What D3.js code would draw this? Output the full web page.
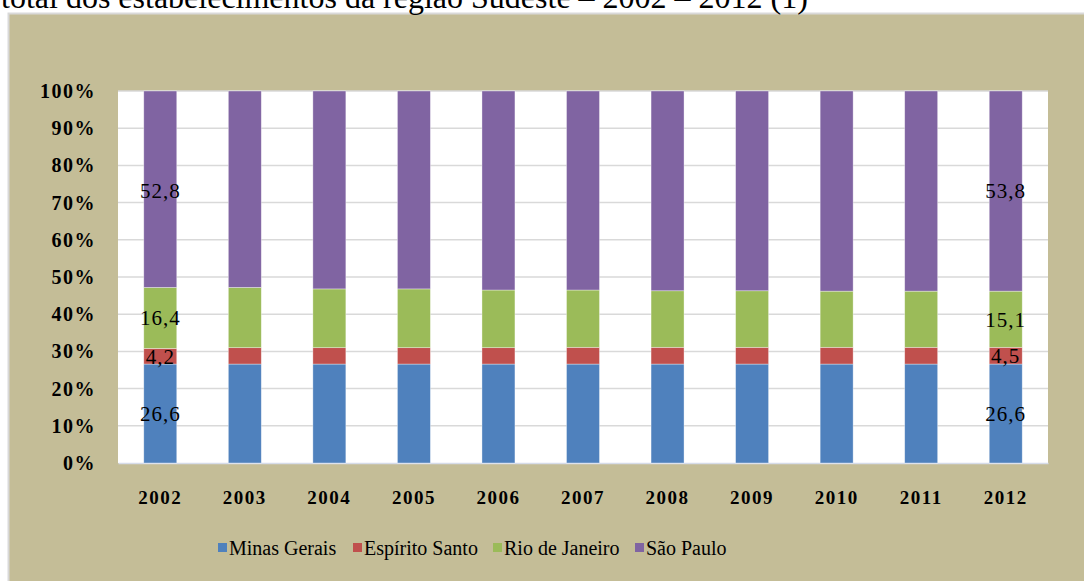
<!DOCTYPE html>
<html>
<head>
<meta charset="utf-8">
<script src="https://cdn.jsdelivr.net/npm/d3@7"></script>
<style>
  body { margin: 0; background: #fff; }
  svg { display: block; }
  svg text { font-family: "Liberation Serif", "Times New Roman", serif; }
</style>
</head>
<body>
<svg id="chart"></svg>
<script>
// data (percent of total)
const years = ["2002", "2003", "2004", "2005", "2006", "2007", "2008", "2009", "2010", "2011", "2012"];
const states = ["Minas Gerais", "Espírito Santo", "Rio de Janeiro", "São Paulo"];
const minasGerais = [26.6, 26.6, 26.6, 26.6, 26.6, 26.6, 26.6, 26.6, 26.6, 26.6, 26.6];
const espiritoSanto = [4.2, 4.4, 4.4, 4.4, 4.4, 4.5, 4.5, 4.5, 4.5, 4.5, 4.5];
const rioDeJaneiro = [16.4, 16.2, 15.8, 15.8, 15.5, 15.4, 15.2, 15.2, 15.1, 15.1, 15.1];
const saoPaulo = [52.8, 52.8, 53.2, 53.2, 53.5, 53.5, 53.7, 53.7, 53.8, 53.8, 53.8];
const yTicks = [0, 10, 20, 30, 40, 50, 60, 70, 80, 90, 100];
const labelledYears = ["2002", "2012"];

const colors = ["#4f81bd", "#c0504d", "#9bbb59", "#8064a2"];
const W = 1084, H = 581;
const serif = "'Liberation Serif', 'Times New Roman', serif";

const svg = d3.select("#chart").attr("width", W).attr("height", H);

// chart frame
svg.append("rect")
    .attr("x", 8.5).attr("y", 13.5)
    .attr("width", W).attr("height", H)
    .attr("fill", "#c4bd97")
    .attr("stroke", "#d9d9d9").attr("stroke-width", 2);

// title line, cut off at the top of the picture
svg.append("text")
    .attr("x", 1).attr("y", 8)
    .style("font-family", serif)
    .style("font-size", "32px")
    .text("total dos estabelecimentos da região Sudeste – 2002 – 2012 (1)");

const plot = { left: 118, right: 1048, top: 91, bottom: 463 };

svg.append("rect")
    .attr("x", plot.left).attr("y", plot.top)
    .attr("width", plot.right - plot.left).attr("height", plot.bottom - plot.top)
    .attr("fill", "#fff");

const x = d3.scaleBand()
    .domain(years)
    .range([plot.left, plot.right])
    .paddingInner(0.61)
    .paddingOuter(0.305);

const y = d3.scaleLinear().domain([0, 100]).range([plot.bottom, plot.top]);

// gridlines
svg.append("g")
    .selectAll("line")
    .data(yTicks.filter(d => d > 0))
    .join("line")
    .attr("x1", plot.left).attr("x2", plot.right)
    .attr("y1", d => y(d)).attr("y2", d => y(d))
    .attr("stroke", "#d9d9d9").attr("stroke-width", 1.5);

// y axis labels
const yAxis = d3.axisLeft(y).tickValues(yTicks).tickSize(0).tickPadding(22)
    .tickFormat(d => d + "%");
svg.append("g")
    .attr("transform", `translate(${plot.left},0)`)
    .call(yAxis)
    .call(g => g.select(".domain").remove())
    .selectAll("text")
    .style("font-family", serif)
    .style("font-size", "20px")
    .style("font-weight", "bold")
    .style("letter-spacing", "1.5px")
    .attr("fill", "#000");

// x axis labels
const xAxis = d3.axisBottom(x).tickSize(0).tickPadding(28);
svg.append("g")
    .attr("transform", `translate(0,${plot.bottom})`)
    .call(xAxis)
    .call(g => g.select(".domain").attr("stroke", "#d6dce9").attr("stroke-width", 1.5))
    .selectAll("text")
    .style("font-family", serif)
    .style("font-size", "19px")
    .style("font-weight", "bold")
    .style("letter-spacing", "1.5px")
    .attr("fill", "#000");

// stacked bars
const rows = years.map((yr, i) => ({
    year: yr,
    "Minas Gerais": minasGerais[i],
    "Espírito Santo": espiritoSanto[i],
    "Rio de Janeiro": rioDeJaneiro[i],
    "São Paulo": saoPaulo[i]
}));
const series = d3.stack().keys(states)(rows);

const layer = svg.append("g")
    .selectAll("g")
    .data(series)
    .join("g")
    .attr("fill", (d, i) => colors[i]);

layer.selectAll("rect")
    .data(d => d)
    .join("rect")
    .attr("x", d => x(d.data.year))
    .attr("width", x.bandwidth())
    .attr("y", d => y(d[1]))
    .attr("height", d => y(d[0]) - y(d[1]))
    .attr("stroke", "rgba(255,255,255,0.5)")
    .attr("stroke-width", 0.7);

// data labels (first and last year only)
layer.selectAll("text")
    .data(d => d.filter(p => labelledYears.includes(p.data.year)).map(p => ({ p, key: d.key })))
    .join("text")
    .attr("x", d => x(d.p.data.year) + x.bandwidth() / 2)
    .attr("y", d => {
        const mid = (y(d.p[0]) + y(d.p[1])) / 2;
        return d.key === "São Paulo" ? y(d.p[1]) + 100 : mid;
    })
    .attr("dy", "0.35em")
    .attr("text-anchor", "middle")
    .attr("fill", "#000")
    .style("font-family", serif)
    .style("font-size", "21px")
    .style("letter-spacing", "1px")
    .text(d => d.p.data[d.key].toFixed(1).replace(".", ","));

// legend
const legendStarts = [218, 353, 493, 635];
const legend = svg.append("g")
    .selectAll("g")
    .data(states)
    .join("g")
    .attr("transform", (d, i) => `translate(${legendStarts[i]},548)`);

legend.append("rect")
    .attr("x", 0).attr("y", -5)
    .attr("width", 9).attr("height", 9)
    .attr("fill", (d, i) => colors[i]);

legend.append("text")
    .attr("x", 11).attr("y", 0)
    .attr("dy", "0.35em")
    .attr("fill", "#000")
    .style("font-family", serif)
    .style("font-size", "20px")
    .text(d => d);
</script>
</body>
</html>
